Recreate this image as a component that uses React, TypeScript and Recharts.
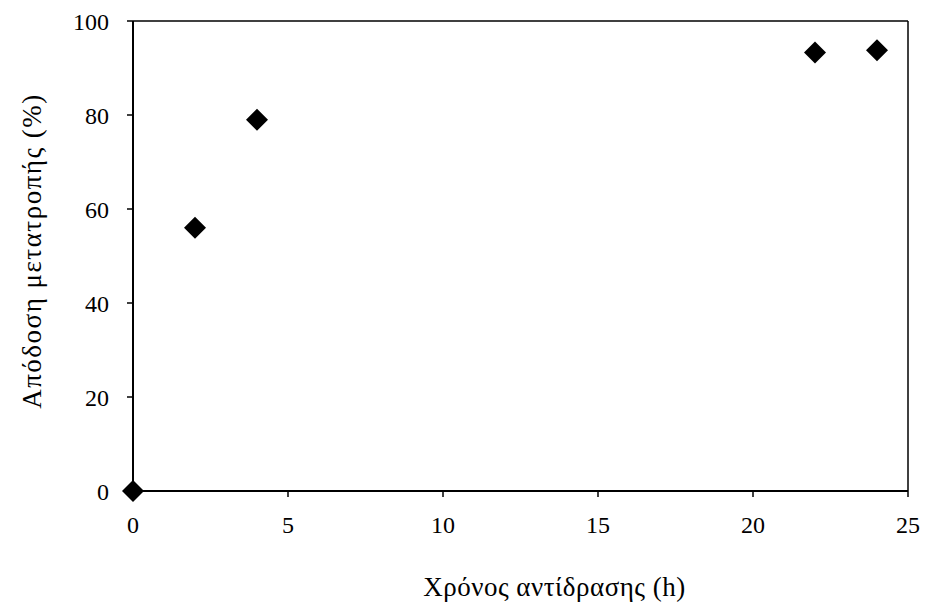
import React from 'react';
import {
  ScatterChart, Scatter, XAxis, YAxis, ReferenceLine, Label,
} from 'recharts';

const hours = [0, 2, 4, 22, 24];
const conversion = [0, 56, 79, 93.3, 93.8];
const xTicks = [0, 5, 10, 15, 20, 25];
const yTicks = [0, 20, 40, 60, 80, 100];

const data = hours.map((h, i) => ({ h, y: conversion[i] }));

const FONT = '"Liberation Serif", "DejaVu Serif", serif';

const Diamond = (props: any) => {
  const { cx, cy } = props;
  const r = 11;
  return (
    <path
      d={`M${cx},${cy - r} L${cx + r},${cy} L${cx},${cy + r} L${cx - r},${cy} Z`}
      fill="#000000"
    />
  );
};

export default function App() {
  return (
    <div style={{ position: 'absolute', left: 0, top: 0, background: '#fff' }}>
      <ScatterChart width={929} height={605} margin={{ top: 21, right: 21, bottom: 0, left: 0 }}>
        <XAxis
          type="number"
          dataKey="h"
          domain={[0, 25]}
          ticks={xTicks}
          height={114}
          axisLine={{ stroke: '#000', strokeWidth: 2 }}
          tickLine={{ stroke: '#000', strokeWidth: 1.5 }}
          tickSize={6}
          tick={{ fontSize: 24, fill: '#000', fontFamily: FONT, dy: 17 }}
        >
          <Label
            value="Χρόνος αντίδρασης (h)"
            position="insideBottom"
            offset={9}
            dx={34}
            style={{ fontSize: 27, fill: '#000', fontFamily: FONT, letterSpacing: 0.5 }}
          />
        </XAxis>
        <YAxis
          type="number"
          dataKey="y"
          domain={[0, 100]}
          ticks={yTicks}
          width={133}
          axisLine={{ stroke: '#000', strokeWidth: 2 }}
          tickLine={{ stroke: '#000', strokeWidth: 1.5 }}
          tickSize={6}
          tick={{ fontSize: 24, fill: '#000', fontFamily: FONT, dx: -16 }}
        >
          <Label
            value="Απόδοση μετατροπής (%)"
            angle={-90}
            position="insideLeft"
            offset={31}
            dy={-5}
            style={{ fontSize: 27, fill: '#000', fontFamily: FONT, textAnchor: 'middle', letterSpacing: 1.5 }}
          />
        </YAxis>
        <ReferenceLine y={100} stroke="#000" strokeWidth={1.5} ifOverflow="extendDomain" />
        <ReferenceLine x={25} stroke="#000" strokeWidth={1.5} ifOverflow="extendDomain" />
        <Scatter data={data} shape={<Diamond />} isAnimationActive={false} />
      </ScatterChart>
    </div>
  );
}
